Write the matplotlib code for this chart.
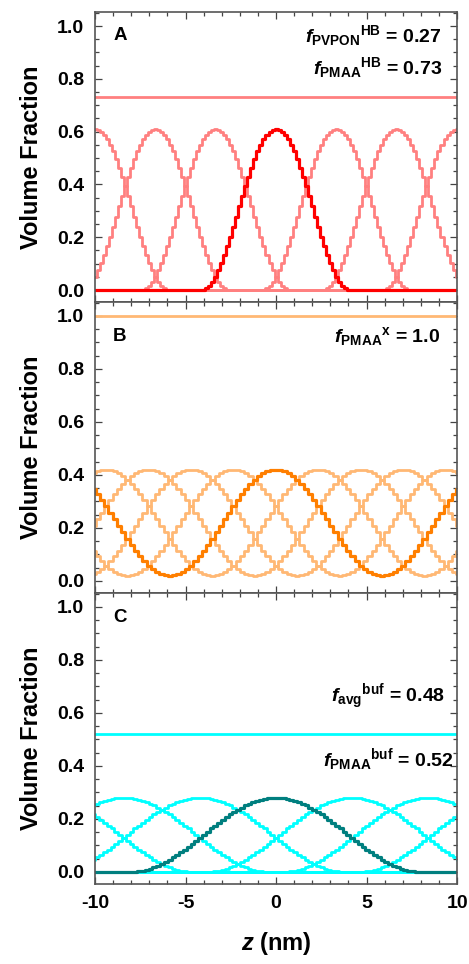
import numpy as np
import matplotlib.pyplot as plt
from matplotlib.ticker import MultipleLocator

plt.rcParams['font.family'] = ['Liberation Sans', 'DejaVu Sans']
plt.rcParams['font.weight'] = 'bold'
plt.rcParams['axes.labelweight'] = 'bold'
plt.rcParams['axes.unicode_minus'] = False
plt.rcParams['mathtext.fontset'] = 'custom'
plt.rcParams['mathtext.rm'] = 'Liberation Sans:bold'
plt.rcParams['mathtext.bf'] = 'Liberation Sans:bold'
plt.rcParams['mathtext.it'] = 'Liberation Sans:italic:bold'
plt.rcParams['mathtext.bfit'] = 'Liberation Sans:italic:bold'

# A: hydrogen-bonded PVPON/PMAA, one layer profile (center -> edge), grid step 1/6 nm
step_a = 1 / 6
half_a = [0.610, 0.608, 0.600, 0.588, 0.571, 0.550, 0.525, 0.496, 0.464, 0.430,
          0.393, 0.355, 0.317, 0.278, 0.239, 0.202, 0.166, 0.133, 0.102, 0.075,
          0.051, 0.032, 0.017, 0.006, 0.001]
shifts_a = [-60, -40, -20, 20, 40, 60]
f_pvpon_hb = 0.27
f_pmaa_hb = 0.73

# B: cross-linked PMAA, half period of the profile (peak -> trough), 50 steps per period
period_b = 11.72
half_b = [0.420, 0.418, 0.414, 0.406, 0.395, 0.382, 0.366, 0.347, 0.327, 0.305,
          0.282, 0.257, 0.233, 0.207, 0.183, 0.158, 0.135, 0.113, 0.093, 0.074,
          0.058, 0.045, 0.034, 0.026, 0.022, 0.020]
shifts_b = [10, 20, 30, 40]
f_pmaa_x = 1.0

# C: PMAA in buffer, one layer profile (center -> edge), grid step 0.21 nm
step_c = 0.21
half_c = [0.280, 0.280, 0.278, 0.276, 0.272, 0.268, 0.263, 0.257, 0.251, 0.243,
          0.235, 0.226, 0.217, 0.207, 0.197, 0.186, 0.175, 0.164, 0.152, 0.141,
          0.129, 0.118, 0.106, 0.095, 0.084, 0.074, 0.064, 0.055, 0.046, 0.038,
          0.030, 0.023, 0.017, 0.012, 0.008, 0.005, 0.002, 0.001]
shifts_c = [-60, -40, -20, 20, 40, 60]
f_avg_buf = 0.48
f_pmaa_buf = 0.52


def layer(half, k, s):
    d = np.abs(k - s)
    vals = np.zeros(len(k))
    inside = d < len(half)
    vals[inside] = np.asarray(half)[d[inside]]
    return vals


def periodic(half, k, s, n):
    m = np.mod(k - s, n)
    m = np.minimum(m, n - m)
    return np.asarray(half)[m]


def frac(name, sup, value):
    return (r'$\mathbfit{f}_{\mathbf{%s}}{}^{\mathbf{%s}}$ = ' % (name, sup)) + value


fig = plt.figure(figsize=(4.69, 9.64), dpi=100)
left, width = 0.2026, 0.772
ax_a = fig.add_axes([left, 0.6867, width, 0.3008])
ax_b = fig.add_axes([left, 0.3849, width, 0.3019], sharex=ax_a)
ax_c = fig.add_axes([left, 0.0830, width, 0.3019], sharex=ax_a)

light_w, dark_w = 2.0, 2.3

# panel A
k = np.arange(-60, 61)
z = k * step_a
for s in shifts_a:
    ax_a.plot(z, layer(half_a, k, s), drawstyle='steps-mid', color='#ff8080', lw=light_w)
ax_a.plot(z, layer(half_a, k, 0), drawstyle='steps-mid', color='#ff0000', lw=dark_w)
ax_a.axhline(f_pmaa_hb, color='#ff8080', lw=light_w)

# panel B
n_b = 50
step_b = period_b / n_b
k = np.arange(-43, 44)
z = k * step_b
for s in shifts_b:
    ax_b.plot(z, periodic(half_b, k, s, n_b), drawstyle='steps-mid', color='#ffb874', lw=light_w)
ax_b.plot(z, periodic(half_b, k, 0, n_b), drawstyle='steps-mid', color='#ff7f00', lw=dark_w)
ax_b.axhline(f_pmaa_x, color='#ffb874', lw=light_w)

# panel C
k = np.arange(-48, 49)
z = k * step_c
for s in shifts_c:
    ax_c.plot(z, layer(half_c, k, s), drawstyle='steps-mid', color='#00ffff', lw=light_w)
ax_c.plot(z, layer(half_c, k, 0), drawstyle='steps-mid', color='#007f7f', lw=dark_w)
ax_c.axhline(f_pmaa_buf, color='#00ffff', lw=light_w)

for ax, letter, ly in [(ax_a, 'A', 0.92), (ax_b, 'B', 0.88), (ax_c, 'C', 0.914)]:
    ax.set_xlim(-10, 10)
    ax.set_ylim(-0.0455, 1.053)
    ax.xaxis.set_major_locator(MultipleLocator(5))
    ax.xaxis.set_minor_locator(MultipleLocator(1))
    ax.yaxis.set_major_locator(MultipleLocator(0.2))
    ax.yaxis.set_minor_locator(MultipleLocator(0.05))
    ax.yaxis.set_major_formatter('{x:.1f}')
    ax.tick_params(which='both', direction='in', top=True, right=True,
                   width=0.9, color='#444444', labelsize=14, pad=8)
    ax.tick_params(which='major', length=5)
    ax.tick_params(which='minor', length=3)
    for sp in ax.spines.values():
        sp.set_color('#555555')
        sp.set_linewidth(1.2)
    ax.set_ylabel('Volume Fraction', fontsize=17, labelpad=10)
    ax.text(0.05, ly, letter, transform=ax.transAxes, fontsize=13.5, va='center', ha='left')

ax_a.tick_params(labelbottom=False)
ax_b.tick_params(labelbottom=False)
ax_c.set_xlabel(r'$\mathbfit{z}$ (nm)', fontsize=17, labelpad=13)

ax_a.text(0.958, 0.92, frac('PVPON', 'HB', '%.2f' % f_pvpon_hb),
          transform=ax_a.transAxes, fontsize=14, ha='right', va='center')
ax_a.text(0.958, 0.81, frac('PMAA', 'HB', '%.2f' % f_pmaa_hb),
          transform=ax_a.transAxes, fontsize=14, ha='right', va='center')
ax_b.text(0.953, 0.88, frac('PMAA', 'x', '%.1f' % f_pmaa_x),
          transform=ax_b.transAxes, fontsize=14, ha='right', va='center')
ax_c.text(0.967, 0.643, frac('avg', 'buf', '%.2f' % f_avg_buf),
          transform=ax_c.transAxes, fontsize=14, ha='right', va='center')
ax_c.text(0.989, 0.426, frac('PMAA', 'buf', '%.2f' % f_pmaa_buf),
          transform=ax_c.transAxes, fontsize=14, ha='right', va='center')

fig.savefig('out.png', dpi=100)
